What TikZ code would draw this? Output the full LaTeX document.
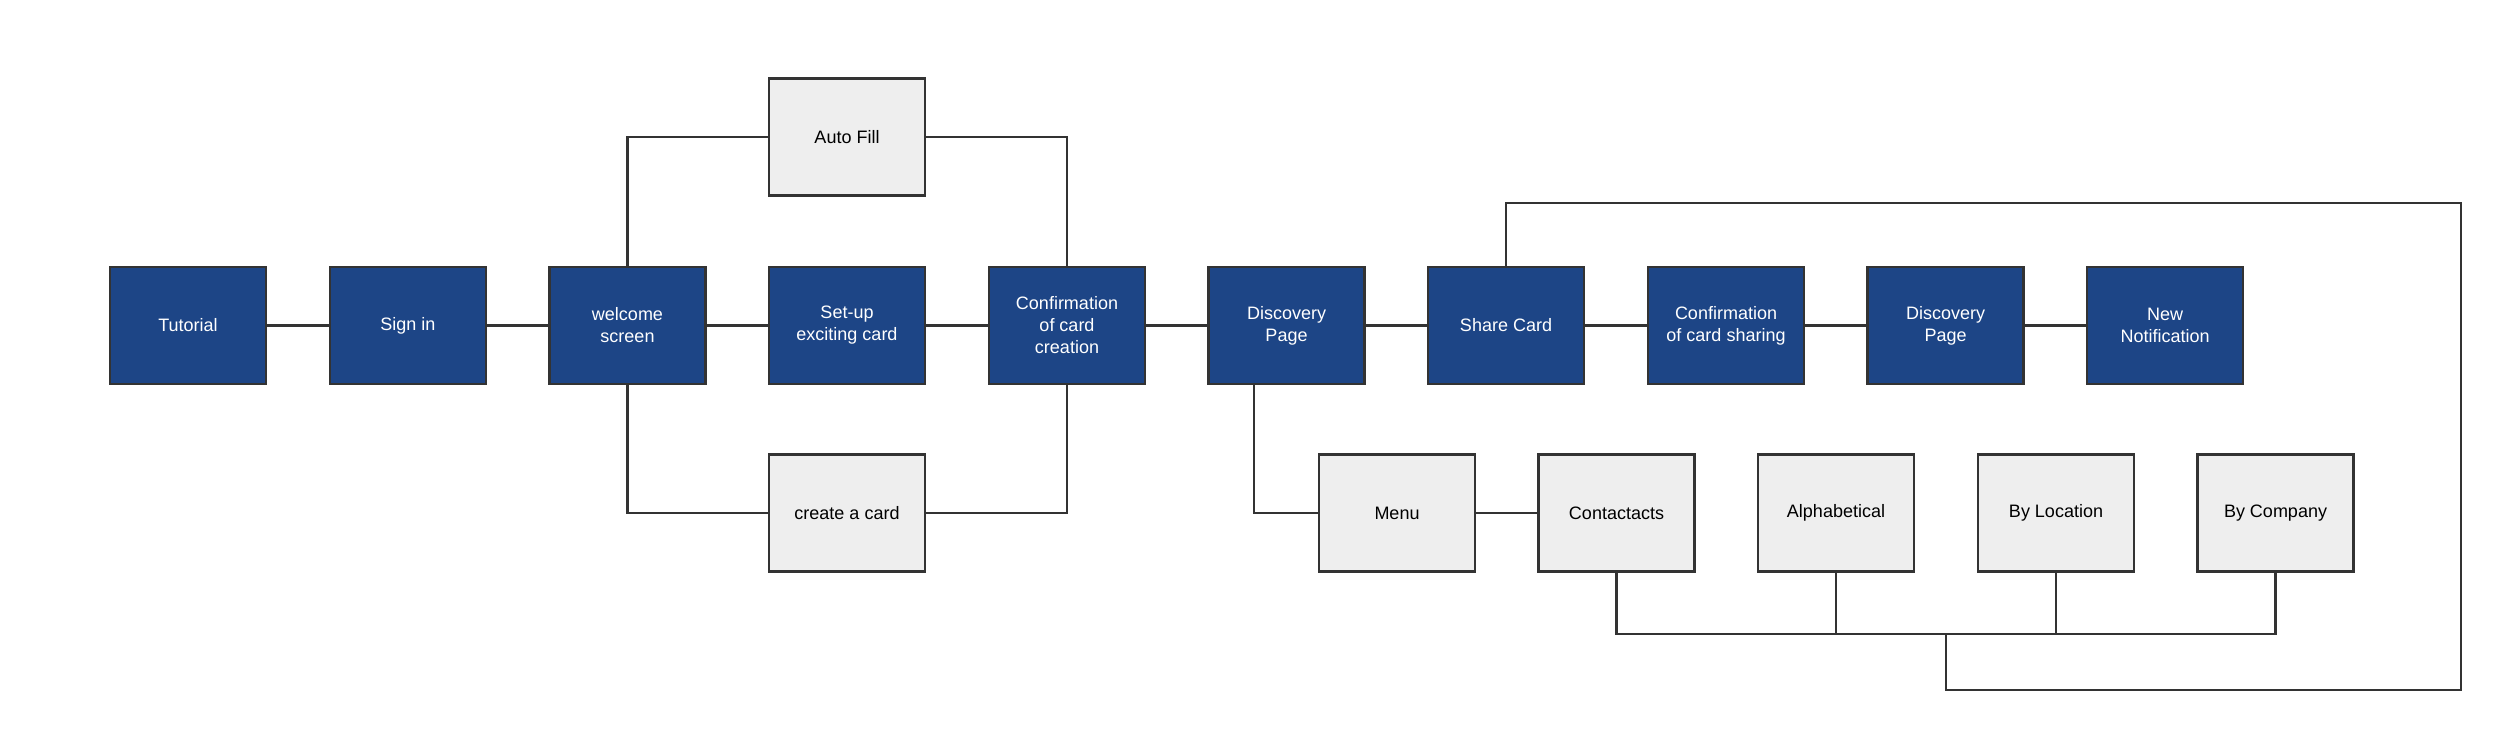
\documentclass[tikz,border=0pt]{standalone}
\usepackage{fontspec}
\setmainfont{Liberation Sans}
\definecolor{boxblue}{HTML}{1D4586}
\definecolor{boxgray}{HTML}{EEEEEE}
\definecolor{linegray}{HTML}{333333}
\begin{document}
\begin{tikzpicture}[x=1pt,y=-1pt,
  base/.style={draw=linegray, line width=2.5pt, minimum width=156pt, minimum height=117pt,
    align=center, font=\fontsize{18}{22}\selectfont, inner sep=0pt},
  bluebox/.style={base, fill=boxblue, text=white},
  graybox/.style={base, fill=boxgray, text=black},
  conn/.style={draw=linegray, line width=2.5pt}]
\useasboundingbox (0,0) rectangle (2500,730);
\fill[white] (0,0) rectangle (2500,730);

% main row
\node[bluebox] (tut)   at (188,325.5)    {Tutorial};
\node[bluebox] (sign)  at (408,325.5)    {Sign in};
\node[bluebox] (wel)   at (627.5,325.5)  {welcome\\screen};
\node[bluebox] (setup) at (847,325.5)    {Set-up\\exciting card};
\node[bluebox] (conf)  at (1067,325.5)   {Confirmation\\of card\\creation};
\node[bluebox] (disc)  at (1286.5,325.5) {Discovery\\Page};
\node[bluebox] (share) at (1506,325.5)   {Share Card};
\node[bluebox] (confs) at (1726,325.5)   {Confirmation\\of card sharing};
\node[bluebox] (disc2) at (1945.5,325.5) {Discovery\\Page};
\node[bluebox] (notif) at (2165,325.5)   {New\\Notification};

% branches
\node[graybox] (auto)   at (847,137) {Auto Fill};
\node[graybox] (create) at (847,513) {create a card};

% bottom row
\node[graybox] (menu)  at (1397,513)   {Menu};
\node[graybox] (cont)  at (1616.5,513) {Contactacts};
\node[graybox] (alpha) at (1836,513)   {Alphabetical};
\node[graybox] (loc)   at (2056,513)   {By Location};
\node[graybox] (comp)  at (2275.5,513) {By Company};

% helper coordinates
\coordinate (bus) at (1946,634);
\coordinate (low) at (1946,690);
\coordinate (lowR) at (2461,690);
\coordinate (topR) at (2461,203);
\coordinate (topL) at (1506,203);

% connectors main row
\draw[conn] (tut) -- (sign);
\draw[conn] (sign) -- (wel);
\draw[conn] (wel) -- (setup);
\draw[conn] (setup) -- (conf);
\draw[conn] (conf) -- (disc);
\draw[conn] (disc) -- (share);
\draw[conn] (share) -- (confs);
\draw[conn] (confs) -- (disc2);
\draw[conn] (disc2) -- (notif);

% branches
\draw[conn] (wel.north) |- (auto.west);
\draw[conn] (auto.east) -| (conf.north);
\draw[conn] (wel.south) |- (create.west);
\draw[conn] (create.east) -| (conf.south);

% discovery to menu
\draw[conn] ([xshift=-32.5pt]disc.south) |- (menu.west);
\draw[conn] (menu) -- (cont);

% bus
\draw[conn] (cont.south) -- (cont.south |- bus) -- (comp.south |- bus) -- (comp.south);
\draw[conn] (alpha.south) -- (alpha.south |- bus);
\draw[conn] (loc.south) -- (loc.south |- bus);
\draw[conn] (bus) -- (low) -- (lowR) -- (topR) -- (topL) -- (share.north);
\end{tikzpicture}
\end{document}
